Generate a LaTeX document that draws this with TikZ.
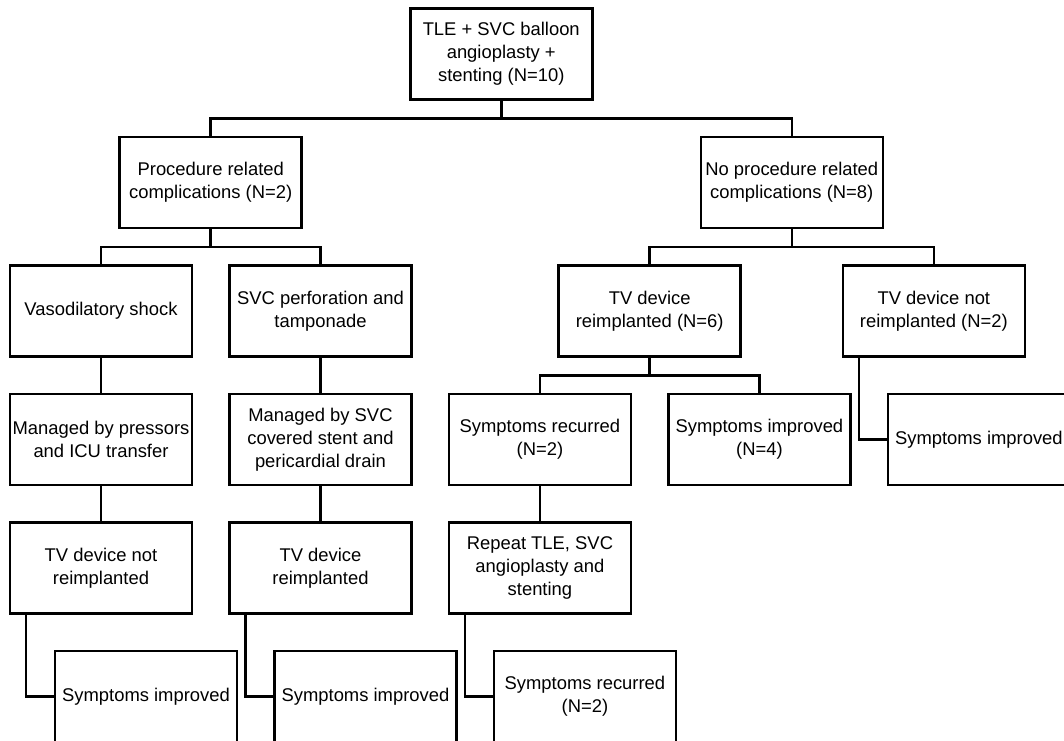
\documentclass[tikz,border=0pt]{standalone}
\usepackage{fontspec}
\setmainfont{Liberation Sans}
\usetikzlibrary{positioning,calc}

\begin{document}
\begin{tikzpicture}
    \tikzset{
        box/.style = {rectangle, draw=black, line width=1.9pt, minimum width=136.5pt, minimum height=68.25pt, inner sep=1pt, align=center, font=\fontsize{13.8pt}{17.25pt}\selectfont},
        line/.style = {draw=black, line width=1.9pt},
    }
    \clip (0,0) rectangle (798pt,-555pt);

    % row with the complications
    \node[box](vaso) at (75.75pt,-233.25pt){Vasodilatory shock};
    \node[box](perf)[right = 26.2pt of vaso]{SVC perforation and\\tamponade};

    \node[box](pressors)[below = 26.2pt of vaso]{Managed by pressors\\and ICU transfer};
    \node[box](covered)[below = 26.2pt of perf]{Managed by SVC\\covered stent and\\pericardial drain};
    \node[box](recur)[right = 26.2pt of covered]{Symptoms recurred\\(N=2)};
    \node[box](imprfour)[right = 26.2pt of recur]{Symptoms improved\\(N=4)};
    \node[box](imprright)[right = 26.2pt of imprfour]{Symptoms improved};

    \coordinate (midtv) at ($(recur.north)!.5!(imprfour.north)$);
    \node[box](tvsix)[above = 26.2pt of midtv]{TV device\\reimplanted (N=6)};
    \node[box](tvtwo)[above = 26.2pt of imprright, xshift=-33.75pt]{TV device not\\reimplanted (N=2)};

    \coordinate (midproc) at ($(vaso.north)!.5!(perf.north)$);
    \node[box](proc)[above = 26.2pt of midproc]{Procedure related\\complications (N=2)};
    \coordinate (midnoproc) at ($(tvsix.north)!.5!(tvtwo.north)$);
    \node[box](noproc)[above = 26.2pt of midnoproc]{No procedure related\\complications (N=8)};

    \coordinate (midtop) at ($(proc.north)!.5!(noproc.north)$);
    \node[box](tle)[above = 26.2pt of midtop]{TLE + SVC balloon\\angioplasty +\\stenting (N=10)};

    \node[box](notre)[below = 26.2pt of pressors]{TV device not\\reimplanted};
    \node[box](re)[below = 26.2pt of covered]{TV device\\reimplanted};
    \node[box](repeat)[below = 26.2pt of recur]{Repeat TLE, SVC\\angioplasty and\\stenting};

    \node[box](imprleft)[below = 26.2pt of notre, xshift=33.75pt]{Symptoms improved};
    \node[box](imprmid)[below = 26.2pt of re, xshift=33.75pt]{Symptoms improved};
    \node[box](recurlast)[below = 26.2pt of repeat, xshift=33.75pt]{Symptoms recurred\\(N=2)};

    % tree connectors
    \path [line] (tle.south) -- ++(0,-13.1pt) -| (proc.north);
    \path [line] (tle.south) -- ++(0,-13.1pt) -| (noproc.north);
    \path [line] (proc.south) -- ++(0,-13.1pt) -| (vaso.north);
    \path [line] (proc.south) -- ++(0,-13.1pt) -| (perf.north);
    \path [line] (noproc.south) -- ++(0,-13.1pt) -| (tvsix.north);
    \path [line] (noproc.south) -- ++(0,-13.1pt) -| (tvtwo.north);
    \path [line] (tvsix.south) -- ++(0,-13.1pt) -| (recur.north);
    \path [line] (tvsix.south) -- ++(0,-13.1pt) -| (imprfour.north);

    \path [line] (vaso) -- (pressors);
    \path [line] (pressors) -- (notre);
    \path [line] (perf) -- (covered);
    \path [line] (covered) -- (re);
    \path [line] (recur) -- (repeat);

    \path [line] ([xshift=13pt]notre.south west) |- (imprleft.west);
    \path [line] ([xshift=13pt]re.south west) |- (imprmid.west);
    \path [line] ([xshift=13pt]repeat.south west) |- (recurlast.west);
    \path [line] ([xshift=13pt]tvtwo.south west) |- (imprright.west);

\end{tikzpicture}
\end{document}
